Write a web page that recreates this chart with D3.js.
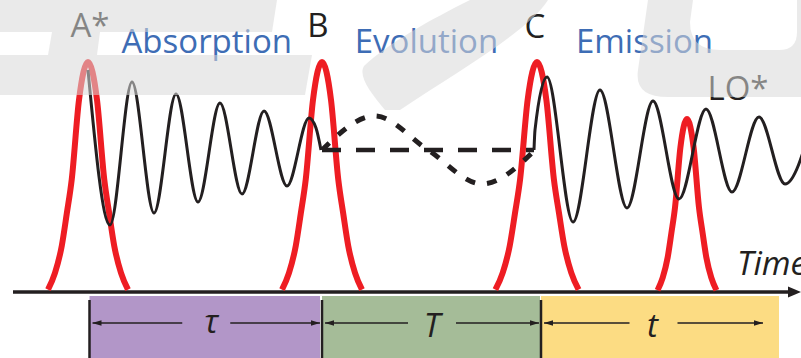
<!DOCTYPE html>
<html>
<head>
<meta charset="utf-8">
<script src="https://cdn.jsdelivr.net/npm/d3@7"></script>
<style>
  body { margin: 0; background: #fff; }
  svg { display: block; font-family: "Open Sans", sans-serif; }
</style>
</head>
<body>
<div id="chart"></div>
<script>
// pulses (time, height, width)
const pulseLabels = ["A*", "B", "C", "LO*"];
const pulseTimes = [7.5, 30.9, 52.4, 67.4];
const pulseHeights = [2.3, 2.3, 2.3, 1.73];
const pulseWidths = [1.25, 1.25, 1.3, 0.92];

const profileOffsets = [-3.2, -2.64, -2.1, -1.7, -1.3, -0.72, 0, 0.72, 1.3, 1.7, 2.1, 2.64, 3.2];
const profileLevels = [0.01, 0.083, 0.2, 0.34, 0.49, 0.835, 1, 0.835, 0.49, 0.34, 0.2, 0.083, 0.01];

// absorption signal, turning points
const absorbTimes = [7.5, 9.7, 11.9, 14.1, 16.3, 18.5, 20.7, 22.9, 25.1, 27.4, 29.6, 30.3, 30.8];
const absorbValues = [2.22, 0.67, 2.10, 0.79, 1.98, 0.90, 1.89, 0.98, 1.81, 1.06, 1.74, 1.64, 1.42];

// evolution: population (dashed) and coherence (dotted)
const populationTimes = [30.9, 52.1];
const populationValues = [1.42, 1.42];
const coherenceTimes = [30.9, 36.2, 41.5, 46.9, 52.2];
const coherenceValues = [1.42, 1.76, 1.42, 1.08, 1.42];

// emission signal, turning points
const emitTimes = [52.1, 52.2, 53.4, 56.0, 58.7, 61.4, 64.0, 66.6, 69.3, 71.9, 74.6, 77.2, 79.9];
const emitValues = [1.42, 1.62, 2.15, 0.70, 2.02, 0.84, 1.91, 0.93, 1.83, 1.00, 1.75, 1.08, 1.69];

// stages under the time axis
const stageNames = ["Absorption", "Evolution", "Emission"];
const stageSymbols = ["τ", "T", "t"];
const stageStarts = [7.65, 30.9, 52.8];
const stageEnds = [30.7, 52.7, 76.6];
const arrowEnds = [30.7, 52.6, 75.0];

const width = 801, height = 358;
const red = "#ee1d23", ink = "#231f20", blue = "#3e6db5";
const stageColors = ["#b296c8", "#a5bc98", "#fcdc83"];

const svg = d3.select("#chart").append("svg")
    .attr("width", width)
    .attr("height", height);

const x = d3.scaleLinear().domain([0, 78.8]).range([13, 801]);
const y = d3.scaleLinear().domain([0, 2.3]).range([292, 62]);

function path(times, values, curve) { // builds a path string from two arrays
    return d3.line()
        .x(d => x(d[0]))
        .y(d => y(d[1]))
        .curve(curve)(times.map((t, i) => [t, values[i]]));
}

// arrow markers
const defs = svg.append("defs");
defs.append("marker")
    .attr("id", "head")
    .attr("viewBox", "0 0 10 6")
    .attr("refX", 10).attr("refY", 3)
    .attr("markerUnits", "userSpaceOnUse")
    .attr("markerWidth", 9).attr("markerHeight", 6)
    .attr("orient", "auto-start-reverse")
    .append("path")
    .attr("d", "M0,0L10,3L0,6Z")
    .attr("fill", ink);

// stage boxes
const stage = svg.append("g");
stage.selectAll("rect")
    .data(stageNames)
    .join("rect")
    .attr("x", (d, i) => x(stageStarts[i]))
    .attr("y", 296)
    .attr("width", (d, i) => x(stageEnds[i]) - x(stageStarts[i]))
    .attr("height", height - 296)
    .attr("fill", (d, i) => stageColors[i]);

stage.selectAll("line.sep")
    .data(stageStarts)
    .join("line")
    .attr("class", "sep")
    .attr("x1", d => x(d)).attr("x2", d => x(d))
    .attr("y1", 300).attr("y2", height)
    .attr("stroke", ink)
    .attr("stroke-width", 2.5);

// double arrows with a gap for the symbol
const gap = 24;
stageSymbols.forEach((s, i) => {
    const a = x(stageStarts[i]) + 3, b = x(arrowEnds[i]);
    const mid = (a + b) / 2;
    stage.append("line")
        .attr("x1", mid - gap).attr("x2", a)
        .attr("y1", 323).attr("y2", 323)
        .attr("stroke", ink).attr("stroke-width", 1.3)
        .attr("marker-end", "url(#head)");
    stage.append("line")
        .attr("x1", mid + gap).attr("x2", b)
        .attr("y1", 323).attr("y2", 323)
        .attr("stroke", ink).attr("stroke-width", 1.3)
        .attr("marker-end", "url(#head)");
});

const symDx = [5, 0, -1];
const symY = [333, 337, 337];
stage.selectAll("text")
    .data(stageSymbols)
    .join("text")
    .attr("x", (d, i) => (x(stageStarts[i]) + 3 + x(arrowEnds[i])) / 2 + symDx[i])
    .attr("y", (d, i) => symY[i])
    .attr("text-anchor", "middle")
    .attr("font-size", 33)
    .attr("font-style", "italic")
    .attr("fill", ink)
    .text(d => d);

// time axis
svg.append("line")
    .attr("x1", x(0)).attr("x2", 790)
    .attr("y1", y(0)).attr("y2", y(0))
    .attr("stroke", ink)
    .attr("stroke-width", 3.5);
svg.append("path")
    .attr("d", `M801,${y(0)}L788,${y(0) - 5.5}L788,${y(0) + 5.5}Z`)
    .attr("fill", ink);
svg.append("text") // runs off the right edge, as in the original
    .attr("x", 737).attr("y", 275)
    .attr("font-size", 33)
    .attr("font-style", "italic")
    .attr("fill", ink)
    .text("Time");

// red pulses
svg.append("g")
    .selectAll("path")
    .data(pulseTimes)
    .join("path")
    .attr("d", (t, i) => path(
        profileOffsets.map(o => t + o * pulseWidths[i]),
        profileLevels.map(l => l * pulseHeights[i]),
        d3.curveMonotoneX))
    .attr("fill", "none")
    .attr("stroke", red)
    .attr("stroke-width", 6);

// signal
const sig = svg.append("g").attr("fill", "none").attr("stroke", ink);
sig.append("path")
    .attr("d", path(absorbTimes, absorbValues, d3.curveMonotoneX))
    .attr("stroke-width", 3);
sig.append("path")
    .attr("d", path(emitTimes, emitValues, d3.curveMonotoneX))
    .attr("stroke-width", 3);
sig.append("path")
    .attr("d", path(populationTimes, populationValues, d3.curveLinear))
    .attr("stroke-width", 4.5)
    .attr("stroke-dasharray", "19,15");
sig.append("path")
    .attr("d", path(coherenceTimes, coherenceValues, d3.curveMonotoneX))
    .attr("stroke-width", 5)
    .attr("stroke-dasharray", "10,12");

// labels
const labelDx = [2, -4, -2, 51];
const labelY = [37, 37, 38, 100];
svg.append("g")
    .selectAll("text")
    .data(pulseLabels)
    .join("text")
    .attr("x", (d, i) => x(pulseTimes[i]) + labelDx[i])
    .attr("y", (d, i) => labelY[i])
    .attr("text-anchor", "middle")
    .attr("font-size", 33)
    .attr("fill", ink)
    .text(d => d);

const nameDx = [2, -4.5, -15.5];
svg.append("g")
    .selectAll("text")
    .data(stageNames)
    .join("text")
    .attr("x", (d, i) => (x(stageStarts[i]) + x(stageEnds[i])) / 2 + nameDx[i])
    .attr("y", 53)
    .attr("text-anchor", "middle")
    .attr("font-size", 33)
    .attr("fill", blue)
    .text(d => d);

// watermark in the background, laid over everything
const mark = svg.append("g").attr("fill", "#d9d9d9").attr("fill-opacity", 0.55);
mark.append("path")
    .attr("d", "M0,0H277L272,32H100L97,55H312L305,95H0V55H48L52,32H0Z");
mark.append("path")
    .attr("d", "M470,0L548,0C530,30 460,70 400,110L385,110C370,92 358,76 364,66C390,42 430,20 470,0Z");
mark.append("path")
    .attr("d", "M648,0L638,70Q634,97 668,97L801,97L801,0L797,0L797,32Q797,50 779,50L720,50Q690,50 690,22L693,0Z");
</script>
</body>
</html>
